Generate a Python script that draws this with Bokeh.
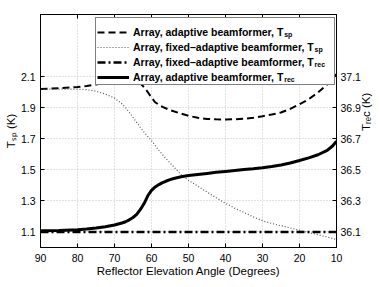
import math
from bokeh.plotting import figure
from bokeh.models import Range1d, LinearAxis, FixedTicker, Legend, LegendItem, Grid
from bokeh.embed import file_html
from bokeh.resources import INLINE

# ---------------- data ----------------
angle = [90, 85, 80, 77.5, 75, 72.5, 70, 68, 67, 66, 65, 64, 63, 62, 61, 60, 59, 58, 57, 56,
         55, 54, 52, 50, 47.5, 45, 42.5, 40, 37.5, 35, 32.5, 30, 27.5, 25, 22.5, 20, 17.5, 15,
         12.5, 11, 10]

tsp_adaptive = [2.020, 2.025, 2.033, 2.040, 2.050, 2.060, 2.067, 2.073, 2.075, 2.076, 2.075,
                2.068, 2.055, 2.032, 2.000, 1.965, 1.935, 1.918, 1.905, 1.895, 1.885, 1.877,
                1.862, 1.848, 1.835, 1.828, 1.825, 1.824, 1.826, 1.829, 1.835, 1.845, 1.856,
                1.869, 1.893, 1.922, 1.955, 1.998, 2.050, 2.090, 2.115]

tsp_fixed = [2.020, 2.020, 2.019, 2.016, 2.006, 1.988, 1.962, 1.925, 1.900, 1.870, 1.838,
             1.805, 1.772, 1.742, 1.715, 1.688, 1.657, 1.625, 1.597, 1.570, 1.545, 1.520,
             1.468, 1.432, 1.395, 1.357, 1.320, 1.285, 1.253, 1.225, 1.197, 1.172, 1.155,
             1.140, 1.126, 1.110, 1.096, 1.082, 1.068, 1.058, 1.052]

trec_adaptive = [36.108, 36.110, 36.115, 36.119, 36.125, 36.133, 36.145, 36.158, 36.166,
                 36.178, 36.193, 36.213, 36.245, 36.283, 36.333, 36.368, 36.390, 36.405,
                 36.418, 36.428, 36.437, 36.444, 36.455, 36.463, 36.470, 36.477, 36.484,
                 36.490, 36.496, 36.502, 36.507, 36.513, 36.521, 36.531, 36.544, 36.560,
                 36.577, 36.597, 36.625, 36.655, 36.685]

angle_fixed_rec = [90, 70, 50, 30, 10]
trec_fixed = [36.100, 36.100, 36.100, 36.100, 36.100]

x_ticks = [90, 80, 70, 60, 50, 40, 30, 20, 10]
tsp_ticks = [1.1, 1.3, 1.5, 1.7, 1.9, 2.1]
trec_ticks = [36.1, 36.3, 36.5, 36.7, 36.9, 37.1]

legend_main = ["Array, adaptive beamformer, T",
               "Array, fixed\u2013adaptive beamformer, T",
               "Array, fixed\u2013adaptive beamformer, T",
               "Array, adaptive beamformer, T"]
legend_sub = ["sp", "sp", "rec", "rec"]
x_label = "Reflector Elevation Angle (Degrees)"
y_label_left = "T\u209b\u209a (K)"
y_label_right = "T\u1d63\u2091c (K)"

# ---------------- font metrics (Arial Bold / Liberation Sans Bold, per 1000 em) -------------
BOLD = {'A': 722, 'r': 389, 'y': 556, ',': 278, ' ': 278, 'a': 556, 'd': 611, 'p': 611,
        't': 333, 'i': 278, 'v': 556, 'e': 556, 'b': 611, 'm': 889, 'f': 333, 'o': 611,
        'x': 556, '\u2013': 556, 'T': 611, 's': 556, 'c': 556}


def tw(s, size, table):
    return sum(table.get(ch, 556) for ch in s) * size / 1000.0


FONT = "Liberation Sans"

# ---------------- figure ----------------
W, H = 382, 287
BL, BR, BT, BB = 40, 46, 14, 40
FW, FH = W - BL - BR, H - BT - BB
FRAME_BOTTOM = BT + FH  # page y of the frame's bottom edge
p = figure(width=W, height=H, output_backend="svg", toolbar_location=None, title=None,
           x_range=Range1d(90, 10), y_range=Range1d(1.0, 2.5),
           min_border_left=BL, min_border_right=BR, min_border_top=BT, min_border_bottom=BB)
p.extra_y_ranges = {"rec": Range1d(36.0, 37.5)}
p.background_fill_color = "white"
p.border_fill_color = "white"
p.outline_line_color = "black"


def style_axis(ax, standoff):
    ax.major_tick_in = 4
    ax.major_tick_out = 0
    ax.minor_tick_line_color = None
    ax.axis_line_color = "black"
    ax.major_tick_line_color = "black"
    ax.major_label_text_font = FONT
    ax.major_label_text_font_size = "10.5px"
    ax.major_label_text_color = "black"
    ax.major_label_standoff = standoff
    ax.axis_label_text_font = FONT
    ax.axis_label_text_font_size = "11.5px"
    ax.axis_label_text_font_style = "normal"
    ax.axis_label_text_color = "black"


bx = p.xaxis[0]
style_axis(bx, 6)
bx.ticker = FixedTicker(ticks=x_ticks)
bx.axis_label = x_label
bx.axis_label_standoff = 0

ly = p.yaxis[0]
style_axis(ly, 5)
ly.ticker = FixedTicker(ticks=tsp_ticks)
ly.axis_label = y_label_left
ly.axis_label_standoff = 1

ry = LinearAxis(y_range_name="rec", ticker=FixedTicker(ticks=trec_ticks))
style_axis(ry, 4)
ry.axis_label = y_label_right
ry.axis_label_standoff = 2
try:
    ry.axis_label_orientation = math.pi / 2
except Exception:
    pass
p.add_layout(ry, "right")

# top border with inward ticks (labels not drawn)
tx = LinearAxis(ticker=FixedTicker(ticks=x_ticks))
style_axis(tx, 0)
tx.major_label_text_color = None
tx.major_label_text_font_size = "6px"
p.add_layout(tx, "above")

p.xgrid.ticker = FixedTicker(ticks=x_ticks)
p.ygrid.ticker = FixedTicker(ticks=tsp_ticks)
for g in [p.xgrid[0], p.ygrid[0]]:
    g.grid_line_color = "#c4c4c4"
    g.grid_line_dash = "1 2"
    g.grid_line_width = 1

top_edge = Grid(dimension=1, ticker=FixedTicker(ticks=[2.5]), grid_line_color="black",
                grid_line_width=1)
p.add_layout(top_edge)

# ---------------- lines ----------------
r1 = p.line(angle, tsp_adaptive, line_color="black", line_width=2, line_dash="7 4")
r2 = p.line(angle, tsp_fixed, line_color="#555555", line_width=1.2, line_dash="1 2")
r3 = p.line(angle_fixed_rec, trec_fixed, y_range_name="rec", line_color="black",
            line_width=2.5, line_dash="8 3 2 3")
r4 = p.line(angle, trec_adaptive, y_range_name="rec", line_color="black", line_width=3)
renderers = [r1, r2, r3, r4]

# ---------------- legend ----------------
# (items are drawn centred on the top of their row, so the box is placed from its bottom)
LEG_SIZE = 10.5
PAD, GLYPH_W, STANDOFF, ROW, SPACING = 1, 32, 4, 12, 3
LABEL_W = 200
LEG_LEFT = 55                     # frame-relative left edge of the legend box
LAST_ROW_Y = 71.5                 # page y of the last entry's centre line
PITCH = ROW + SPACING
n = len(legend_main)
box_bottom = LAST_ROW_Y + ROW + PAD
legend = Legend(items=[LegendItem(label=t, renderers=[r]) for t, r in
                       zip(legend_main, renderers)],
                location=(LEG_LEFT, FRAME_BOTTOM - box_bottom))
legend.title = " "
legend.title_text_font_size = "6px"
legend.title_standoff = 1
legend.label_text_font = FONT
legend.label_text_font_size = f"{LEG_SIZE}px"
legend.label_text_font_style = "bold"
legend.label_text_color = "black"
legend.padding = PAD
legend.spacing = SPACING
legend.margin = 0
legend.glyph_width = GLYPH_W
legend.glyph_height = ROW
legend.label_height = ROW
legend.label_standoff = STANDOFF
legend.label_width = LABEL_W
legend.border_line_color = "black"
legend.border_line_width = 1
legend.background_fill_color = "white"
legend.background_fill_alpha = 1
p.add_layout(legend)

# subscripts of the legend entries: one tiny label-only legend per entry
SUB_ROW = 9
text_left = LEG_LEFT + PAD + GLYPH_W + STANDOFF  # frame-relative
for i, (main, sub, r) in enumerate(zip(legend_main, legend_sub, renderers)):
    row_y = LAST_ROW_Y - (n - 1 - i) * PITCH
    sub_top = row_y + 3
    sub_left = text_left + tw(main, LEG_SIZE, BOLD) + 0.5
    sl = Legend(items=[LegendItem(label=sub, renderers=[r])],
                location=(sub_left, FRAME_BOTTOM - (sub_top + SUB_ROW)))
    sl.label_text_font = FONT
    sl.label_text_font_size = "7px"
    sl.label_text_font_style = "bold"
    sl.label_text_color = "black"
    sl.padding = 0
    sl.margin = 0
    sl.spacing = 0
    sl.glyph_width = 0
    sl.glyph_height = SUB_ROW
    sl.label_height = SUB_ROW
    sl.label_standoff = 0
    sl.label_width = 0
    sl.border_line_color = None
    sl.background_fill_alpha = 0
    p.add_layout(sl)

open("out.html", "w").write(file_html(p, INLINE))
